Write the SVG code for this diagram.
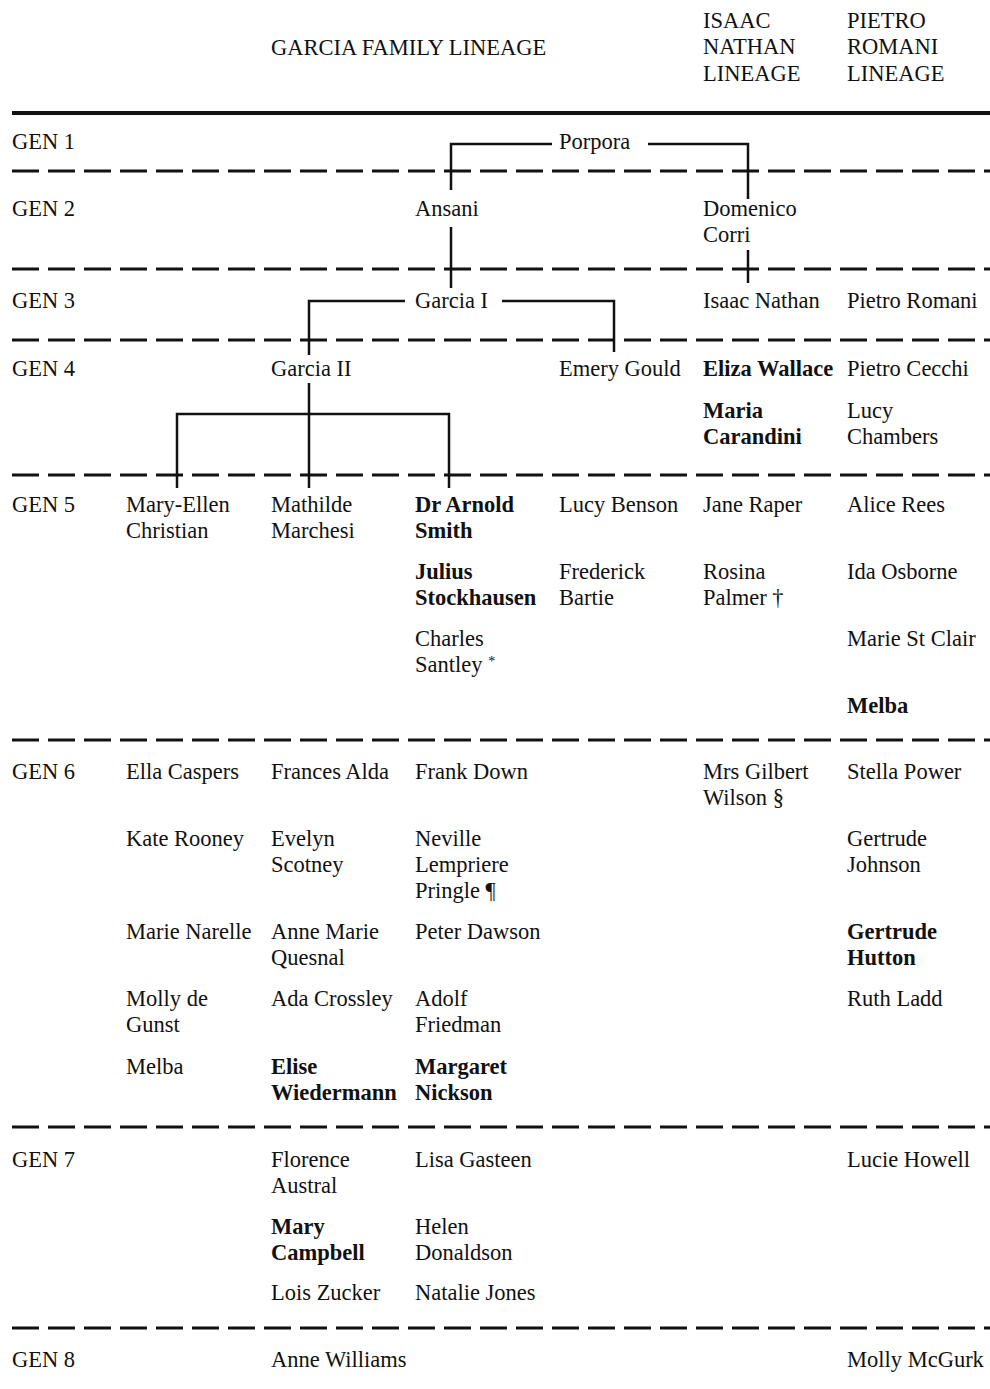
<svg xmlns="http://www.w3.org/2000/svg" width="990" height="1389" viewBox="0 0 990 1389">
<style>
text{font-family:"Liberation Serif","Times New Roman",serif;font-size:22.5px;fill:#111}
.b{font-weight:bold}
.rule{stroke:#111;stroke-width:3;stroke-dasharray:27 9;fill:none}
.solid{stroke:#111;stroke-width:4;fill:none}
.con{stroke:#111;stroke-width:2.5;fill:none}
.sup{font-size:14px}
</style>
<rect width="990" height="1389" fill="#fff"/>
<g id="headers">
<text x="271" y="55">GARCIA FAMILY LINEAGE</text>
<text x="703" y="28">ISAAC</text><text x="703" y="54">NATHAN</text><text x="703" y="81">LINEAGE</text>
<text x="847" y="28">PIETRO</text><text x="847" y="54">ROMANI</text><text x="847" y="81">LINEAGE</text>
</g>
<g id="rules">
<line class="solid" x1="12" y1="113" x2="990" y2="113"/>
<line class="rule" x1="12" y1="171" x2="990" y2="171"/>
<line class="rule" x1="12" y1="269" x2="990" y2="269"/>
<line class="rule" x1="12" y1="340" x2="990" y2="340"/>
<line class="rule" x1="12" y1="475" x2="990" y2="475"/>
<line class="rule" x1="12" y1="740" x2="990" y2="740"/>
<line class="rule" x1="12" y1="1127" x2="990" y2="1127"/>
<line class="rule" x1="12" y1="1328" x2="990" y2="1328"/>
</g>
<g id="generations">
<text x="12" y="149">GEN 1</text>
<text x="12" y="216">GEN 2</text>
<text x="12" y="308">GEN 3</text>
<text x="12" y="376">GEN 4</text>
<text x="12" y="512">GEN 5</text>
<text x="12" y="779">GEN 6</text>
<text x="12" y="1167">GEN 7</text>
<text x="12" y="1367">GEN 8</text>
</g>
<g id="connectors">
<polyline class="con" points="451,190 451,144 552,144"/>
<polyline class="con" points="648,144 748,144 748,199"/>
<line class="con" x1="451" y1="227" x2="451" y2="288"/>
<line class="con" x1="748" y1="250" x2="748" y2="283"/>
<polyline class="con" points="309,355 309,301 405,301"/>
<polyline class="con" points="502,301 614,301 614,352"/>
<line class="con" x1="309" y1="383" x2="309" y2="488"/>
<polyline class="con" points="177,488 177,414 449,414 449,488"/>
</g>
<g id="n-porpora"><text x="559" y="149">Porpora</text></g>
<g id="n-ansani"><text x="415" y="216">Ansani</text></g>
<g id="n-domenico-corri"><text x="703" y="216">Domenico</text><text x="703" y="242">Corri</text></g>
<g id="n-garcia-i"><text x="415" y="308">Garcia I</text></g>
<g id="n-isaac-nathan"><text x="703" y="308">Isaac Nathan</text></g>
<g id="n-pietro-romani"><text x="847" y="308">Pietro Romani</text></g>
<g id="n-garcia-ii"><text x="271" y="376">Garcia II</text></g>
<g id="n-emery-gould"><text x="559" y="376">Emery Gould</text></g>
<g id="n-eliza-wallace"><text class="b" x="703" y="376">Eliza Wallace</text></g>
<g id="n-pietro-cecchi"><text x="847" y="376">Pietro Cecchi</text></g>
<g id="n-maria-carandini"><text class="b" x="703" y="418">Maria</text><text class="b" x="703" y="444">Carandini</text></g>
<g id="n-lucy-chambers"><text x="847" y="418">Lucy</text><text x="847" y="444">Chambers</text></g>
<g id="n-mary-ellen-christian"><text x="126" y="512">Mary-Ellen</text><text x="126" y="538">Christian</text></g>
<g id="n-mathilde-marchesi"><text x="271" y="512">Mathilde</text><text x="271" y="538">Marchesi</text></g>
<g id="n-arnold-smith"><text class="b" x="415" y="512">Dr Arnold</text><text class="b" x="415" y="538">Smith</text></g>
<g id="n-julius-stockhausen"><text class="b" x="415" y="579">Julius</text><text class="b" x="415" y="605">Stockhausen</text></g>
<g id="n-charles-santley"><text x="415" y="646">Charles</text><text x="415" y="672">Santley <tspan class="sup" dy="-6">*</tspan></text></g>
<g id="n-lucy-benson"><text x="559" y="512">Lucy Benson</text></g>
<g id="n-frederick-bartie"><text x="559" y="579">Frederick</text><text x="559" y="605">Bartie</text></g>
<g id="n-jane-raper"><text x="703" y="512">Jane Raper</text></g>
<g id="n-rosina-palmer"><text x="703" y="579">Rosina</text><text x="703" y="605">Palmer †</text></g>
<g id="n-alice-rees"><text x="847" y="512">Alice Rees</text></g>
<g id="n-ida-osborne"><text x="847" y="579">Ida Osborne</text></g>
<g id="n-marie-st-clair"><text x="847" y="646">Marie St Clair</text></g>
<g id="n-melba-5"><text class="b" x="847" y="713">Melba</text></g>
<g id="n-ella-caspers"><text x="126" y="779">Ella Caspers</text></g>
<g id="n-kate-rooney"><text x="126" y="846">Kate Rooney</text></g>
<g id="n-marie-narelle"><text x="126" y="939">Marie Narelle</text></g>
<g id="n-molly-de-gunst"><text x="126" y="1006">Molly de</text><text x="126" y="1032">Gunst</text></g>
<g id="n-melba-6"><text x="126" y="1074">Melba</text></g>
<g id="n-frances-alda"><text x="271" y="779">Frances Alda</text></g>
<g id="n-evelyn-scotney"><text x="271" y="846">Evelyn</text><text x="271" y="872">Scotney</text></g>
<g id="n-anne-marie-quesnal"><text x="271" y="939">Anne Marie</text><text x="271" y="965">Quesnal</text></g>
<g id="n-ada-crossley"><text x="271" y="1006">Ada Crossley</text></g>
<g id="n-elise-wiedermann"><text class="b" x="271" y="1074">Elise</text><text class="b" x="271" y="1100">Wiedermann</text></g>
<g id="n-frank-down"><text x="415" y="779">Frank Down</text></g>
<g id="n-neville-pringle"><text x="415" y="846">Neville</text><text x="415" y="872">Lempriere</text><text x="415" y="898">Pringle ¶</text></g>
<g id="n-peter-dawson"><text x="415" y="939">Peter Dawson</text></g>
<g id="n-adolf-friedman"><text x="415" y="1006">Adolf</text><text x="415" y="1032">Friedman</text></g>
<g id="n-margaret-nickson"><text class="b" x="415" y="1074">Margaret</text><text class="b" x="415" y="1100">Nickson</text></g>
<g id="n-gilbert-wilson"><text x="703" y="779">Mrs Gilbert</text><text x="703" y="805">Wilson §</text></g>
<g id="n-stella-power"><text x="847" y="779">Stella Power</text></g>
<g id="n-gertrude-johnson"><text x="847" y="846">Gertrude</text><text x="847" y="872">Johnson</text></g>
<g id="n-gertrude-hutton"><text class="b" x="847" y="939">Gertrude</text><text class="b" x="847" y="965">Hutton</text></g>
<g id="n-ruth-ladd"><text x="847" y="1006">Ruth Ladd</text></g>
<g id="n-florence-austral"><text x="271" y="1167">Florence</text><text x="271" y="1193">Austral</text></g>
<g id="n-mary-campbell"><text class="b" x="271" y="1234">Mary</text><text class="b" x="271" y="1260">Campbell</text></g>
<g id="n-lois-zucker"><text x="271" y="1300">Lois Zucker</text></g>
<g id="n-lisa-gasteen"><text x="415" y="1167">Lisa Gasteen</text></g>
<g id="n-helen-donaldson"><text x="415" y="1234">Helen</text><text x="415" y="1260">Donaldson</text></g>
<g id="n-natalie-jones"><text x="415" y="1300">Natalie Jones</text></g>
<g id="n-lucie-howell"><text x="847" y="1167">Lucie Howell</text></g>
<g id="n-anne-williams"><text x="271" y="1367">Anne Williams</text></g>
<g id="n-molly-mcgurk"><text x="847" y="1367">Molly McGurk</text></g>
</svg>
